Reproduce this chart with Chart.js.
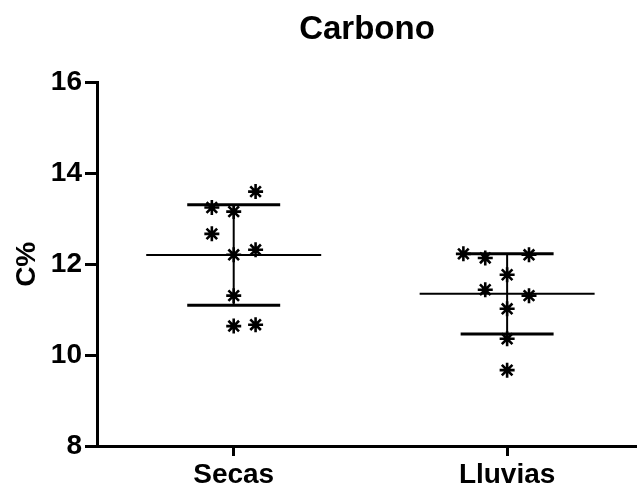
<!DOCTYPE html>
<html>
<head>
<meta charset="utf-8">
<script src="https://cdn.jsdelivr.net/npm/chart.js@4"></script>
<style>
  html, body { margin: 0; padding: 0; background: #fff; overflow: hidden; }
  #carbonChart { display: block; }
</style>
</head>
<body>
<canvas id="carbonChart" width="637" height="485"></canvas>
<script>
// Data
var groups = ['Secas', 'Lluvias'];
var secasValues = [13.60, 13.25, 13.16, 12.67, 12.21, 12.32, 11.31, 10.64, 10.67];
var secasSpread = [0.08, -0.08, 0, -0.08, 0, 0.08, 0, 0, 0.08]; // column scatter offsets
var lluviasValues = [12.23, 12.14, 12.21, 11.77, 11.44, 11.31, 11.02, 10.36, 9.67];
var lluviasSpread = [-0.16, -0.08, 0.08, 0, -0.08, 0.08, 0, 0, 0];
var yTicks = [8, 10, 12, 14, 16];

var font = "'Liberation Sans', Arial, sans-serif";

function mean(a) {
    var s = 0;
    a.forEach(function(v){ s += v; });
    return s / a.length;
}
function sd(a) {
    var m = mean(a), s = 0;
    a.forEach(function(v){ s += (v - m) * (v - m); });
    return Math.sqrt(s / (a.length - 1));
}

var datasets = [];
[[secasValues, secasSpread], [lluviasValues, lluviasSpread]].forEach(function(g, i){
    var x = i + 1;
    var m = mean(g[0]), s = sd(g[0]);
    var seg = function(pts, w){
        datasets.push({
            type: 'line',
            data: pts,
            borderColor: '#000',
            borderWidth: w,
            pointRadius: 0,
            fill: false
        });
    };
    seg([{x: x - 0.32, y: m}, {x: x + 0.32, y: m}], 2); // mean line
    seg([{x: x - 0.17, y: m + s}, {x: x + 0.17, y: m + s}], 3); // upper SD cap
    seg([{x: x - 0.17, y: m - s}, {x: x + 0.17, y: m - s}], 3); // lower SD cap
    seg([{x: x, y: m - s}, {x: x, y: m + s}], 2); // SD whisker
    datasets.push({
        type: 'scatter',
        data: g[0].map(function(v, k){ return {x: x + g[1][k], y: v}; }),
        pointStyle: 'star',
        pointRadius: 7.5,
        pointBorderWidth: 2.6,
        borderColor: '#000',
        backgroundColor: '#000'
    });
});

var ctx = document.getElementById('carbonChart').getContext('2d');
var carbonChart = new Chart(ctx, {
    type: 'scatter',
    data: { datasets: datasets },
    options: {
        responsive: false,
        animation: false,
        layout: { autoPadding: false, padding: 0 },
        plugins: {
            legend: { display: false },
            tooltip: { enabled: false },
            title: {
                display: true,
                text: 'Carbono',
                fullSize: false,
                color: '#000',
                font: { family: font, size: 33, weight: 'bold' },
                padding: { top: 10, bottom: 33 }
            }
        },
        scales: {
            x: {
                type: 'linear',
                min: 0.5,
                max: 2.475,
                afterBuildTicks: function(scale){
                    scale.ticks = groups.map(function(g, i){ return {value: i + 1}; });
                },
                afterFit: function(scale){ scale.height = 39; },
                ticks: {
                    color: '#000',
                    font: { family: font, size: 28, weight: 'bold' },
                    padding: 2,
                    autoSkip: false,
                    maxRotation: 0,
                    callback: function(v){ return groups[v - 1]; }
                },
                grid: { drawOnChartArea: false, drawTicks: true, tickLength: 10, tickWidth: 3, tickColor: '#000' },
                border: { display: true, width: 3, color: '#000' }
            },
            y: {
                min: 8,
                max: 16,
                afterBuildTicks: function(scale){
                    scale.ticks = yTicks.map(function(v){ return {value: v}; });
                },
                afterFit: function(scale){ scale.width = 97; },
                ticks: {
                    color: '#000',
                    font: { family: font, size: 28, weight: 'bold' },
                    padding: 3
                },
                title: {
                    display: true,
                    text: 'C%',
                    color: '#000',
                    font: { family: font, size: 28, weight: 'bold' },
                    padding: { top: 10, bottom: 0 }
                },
                grid: { drawOnChartArea: false, drawTicks: true, tickLength: 12, tickWidth: 3, tickColor: '#000' },
                border: { display: true, width: 3, color: '#000' }
            }
        }
    }
});
</script>
</body>
</html>
